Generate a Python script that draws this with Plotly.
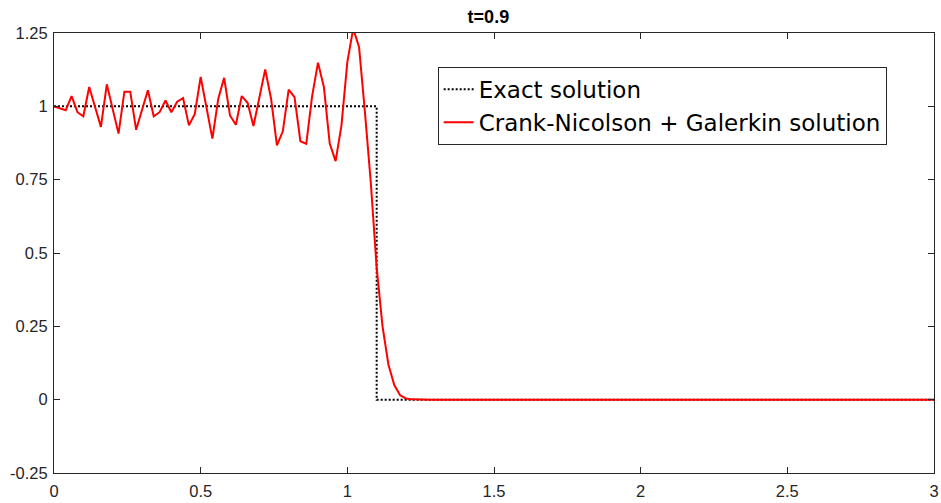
import plotly.graph_objects as go

# Mesh nodes (h = 0.02 on [0, 3])
x_nodes = [round(0.02 * i, 2) for i in range(151)]

# Crank-Nicolson + Galerkin solution values at nodes
cn_head = [1.0, 0.994, 0.987, 1.035, 0.98, 0.966, 1.066, 0.998, 0.93, 1.075,
           0.99, 0.907, 1.05, 1.05, 0.92, 0.99, 1.055, 0.966, 0.98, 1.02,
           0.98, 1.016, 1.028, 0.935, 0.974, 1.10, 0.995, 0.89, 1.026, 1.097,
           0.969, 0.937, 1.035, 1.012, 0.933, 1.024, 1.126, 1.026, 0.867, 0.915,
           1.057, 1.031, 0.881, 0.872, 1.035, 1.149, 1.066, 0.873, 0.813, 0.935,
           1.151, 1.265, 1.202, 0.98, 0.74, 0.45, 0.25, 0.12, 0.05, 0.015,
           0.004, 0.001]
cn_tail = [0.0] * (151 - len(cn_head))
cn_values = cn_head + cn_tail

# Exact solution (step at x = 1.1)
exact_x = [0, 1.1, 1.1, 3]
exact_y = [1, 1, 0, 0]

x_ticks = [0, 0.5, 1, 1.5, 2, 2.5, 3]
x_ticklabels = ["0", "0.5", "1", "1.5", "2", "2.5", "3"]
y_ticks = [-0.25, 0, 0.25, 0.5, 0.75, 1, 1.25]
y_ticklabels = ["-0.25", "0", "0.25", "0.5", "0.75", "1", "1.25"]

FONT = "Liberation Sans, Arial, sans-serif"
AX = "#262626"

fig = go.Figure()
fig.add_trace(go.Scatter(x=exact_x, y=exact_y, mode="lines", name="Exact solution",
                         line=dict(color="black", width=2, dash="2px,2px")))
fig.add_trace(go.Scatter(x=x_nodes, y=cn_values, mode="lines",
                         name="Crank-Nicolson + Galerkin solution",
                         line=dict(color="#FF0000", width=2)))

axis_common = dict(showline=True, linecolor=AX, linewidth=1, mirror="ticks",
                   ticks="inside", ticklen=6, tickcolor=AX, showgrid=False,
                   zeroline=False, automargin=False,
                   tickfont=dict(family=FONT, size=16.5, color=AX))

fig.update_layout(
    width=941, height=503,
    margin=dict(l=54, r=7, t=33, b=30, autoexpand=False),
    plot_bgcolor="white", paper_bgcolor="white",
    title=dict(text="<b>t=0.9</b>", x=0.519, xanchor="center", y=1 - 17 / 503,
               yanchor="middle", yref="container",
               font=dict(family=FONT, size=18, color="black")),
    xaxis=dict(range=[0, 3], tickvals=x_ticks, ticktext=x_ticklabels,
               ticklabelstandoff=3, **axis_common),
    yaxis=dict(range=[-0.25, 1.25], tickvals=y_ticks, ticktext=y_ticklabels,
               ticklabelstandoff=2, **axis_common),
    legend=dict(x=0.436, y=0.923, xanchor="left", yanchor="top",
                bgcolor="white", bordercolor=AX, borderwidth=1,
                font=dict(family="DejaVu Sans, sans-serif", size=23, color="black"),
                itemwidth=30, tracegroupgap=0),
    showlegend=True,
)

fig.write_html("out.html",
               config={"displayModeBar": False},
               post_script="document.body.style.margin='0';document.body.style.overflow='hidden';")
